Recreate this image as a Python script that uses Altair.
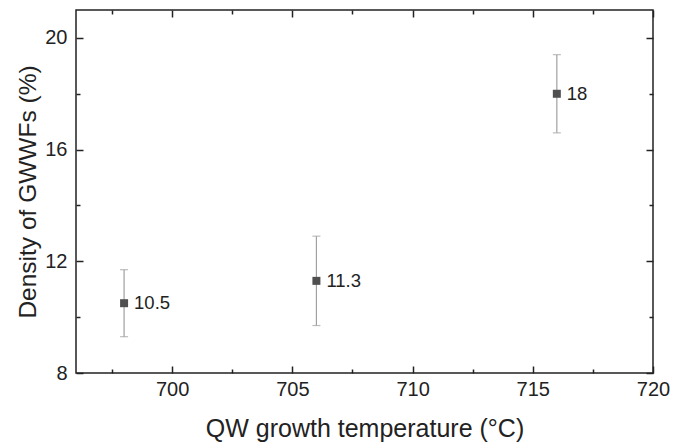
import altair as alt
import pandas as pd

temps = [698, 706, 716]
density = [10.5, 11.3, 18.0]
errors = [1.2, 1.6, 1.4]
labels = ["10.5", "11.3", "18"]

x_major = [700, 705, 710, 715, 720]
x_minor = [697.5, 702.5, 707.5, 712.5, 717.5]
y_major = [8, 12, 16, 20]
y_minor = [10, 14, 18]

df = pd.DataFrame({
    "temp": temps,
    "dens": density,
    "lo": [d - e for d, e in zip(density, errors)],
    "hi": [d + e for d, e in zip(density, errors)],
    "label": labels,
})

FONT = "Liberation Sans"
INK = "#222222"
xs = alt.Scale(domain=[696, 720], nice=False, zero=False)
ys = alt.Scale(domain=[8, 21], nice=False, zero=False)


def xaxis(orient, values, size, labels_on=False, title=None):
    kw = dict(orient=orient, values=values, tickSize=size, offset=-size, domain=False,
              grid=False, tickColor=INK, tickWidth=1.5, labels=labels_on)
    if labels_on:
        kw.update(labelFontSize=20, labelFont=FONT, labelColor=INK, labelPadding=6,
                  labelFlush=False, labelOverlap=False)
    if title:
        kw.update(title=title, titleFontSize=25, titleFont=FONT, titleColor=INK,
                  titleFontWeight="normal", titleBaseline="alphabetic", titleY=70)
    return alt.Axis(**kw)


def yaxis(orient, values, size, labels_on=False, title=None):
    kw = dict(orient=orient, values=values, tickSize=size, offset=-size, domain=False,
              grid=False, tickColor=INK, tickWidth=1.5, labels=labels_on)
    if labels_on:
        kw.update(labelFontSize=20, labelFont=FONT, labelColor=INK, labelPadding=9,
                  labelOverlap=False)
    if title:
        kw.update(title=title, titleFontSize=24.5, titleFont=FONT, titleColor=INK,
                  titleFontWeight="normal", titleBaseline="alphabetic", titleX=-48)
    return alt.Axis(**kw)


base = alt.Chart(df)

rules = base.mark_rule(color="#a0a0a0", strokeWidth=1.2).encode(
    x=alt.X("temp:Q", scale=xs,
            axis=xaxis("bottom", x_major, 7, True, "QW growth temperature (°C)")),
    y=alt.Y("lo:Q", scale=ys, axis=yaxis("left", y_major, 7, True, "Density of GWWFs (%)")),
    y2="hi:Q",
)

cap_lo = base.mark_tick(color="#a0a0a0", orient="horizontal", size=8, thickness=1.2).encode(
    x=alt.X("temp:Q", scale=xs, axis=xaxis("top", x_major, 7), title=None),
    y=alt.Y("lo:Q", scale=ys, axis=yaxis("right", y_major, 7), title=None),
)

cap_hi = base.mark_tick(color="#a0a0a0", orient="horizontal", size=8, thickness=1.2).encode(
    x=alt.X("temp:Q", scale=xs, axis=xaxis("bottom", x_minor, 4), title=None),
    y=alt.Y("hi:Q", scale=ys, axis=yaxis("left", y_minor, 4), title=None),
)

points = base.mark_square(size=64, color="#4f4f4f", opacity=1, filled=True).encode(
    x=alt.X("temp:Q", scale=xs, axis=xaxis("top", x_minor, 4), title=None),
    y=alt.Y("dens:Q", scale=ys, axis=yaxis("right", y_minor, 4), title=None),
)

texts = base.mark_text(align="left", baseline="middle", dx=10, fontSize=18.5,
                       font=FONT, color=INK).encode(
    x=alt.X("temp:Q", scale=xs, axis=None),
    y=alt.Y("dens:Q", scale=ys, axis=None),
    text="label:N",
)

chart = alt.layer(rules, cap_lo, cap_hi, points, texts).resolve_axis(
    x="independent", y="independent"
).properties(
    width=577, height=363,
    autosize=alt.AutoSizeParams(type="none"),
    padding={"left": 76, "top": 10, "right": 34, "bottom": 70},
).configure_view(stroke=INK, strokeWidth=1.5)

chart.save("out.html", embed_options={"renderer": "svg", "actions": False})
